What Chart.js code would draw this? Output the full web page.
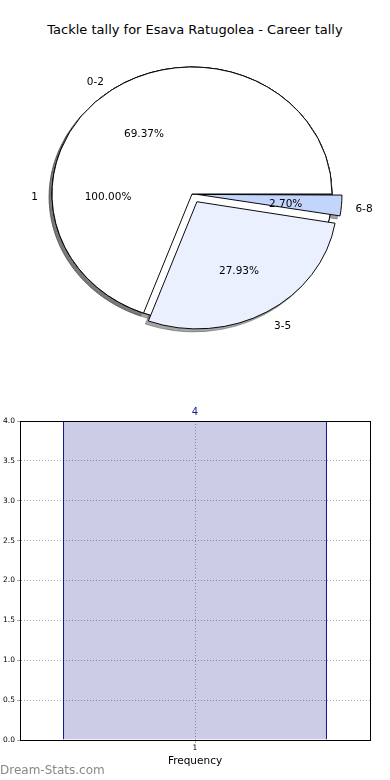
<!DOCTYPE html>
<html>
<head>
<meta charset="utf-8">
<script src="https://cdn.jsdelivr.net/npm/chart.js@4.4.1/dist/chart.umd.min.js"></script>
<style>
  body { margin: 0; width: 390px; height: 780px; background: #fff; font-family: "DejaVu Sans", sans-serif; overflow: hidden; position: relative; }
  canvas { position: absolute; left: 0; }
  #title { position: absolute; top: 22px; left: 0; width: 390px; text-align: center; font-size: 13px; line-height: 16px; color: #000; }
  #mark { position: absolute; left: 0; top: 763px; font-size: 12px; line-height: 14px; color: #888; }
</style>
</head>
<body>
<div id="title">Tackle tally for Esava Ratugolea - Career tally</div>
<canvas id="base" width="390" height="390" style="top:0"></canvas>
<canvas id="pie" width="390" height="390" style="top:0"></canvas>
<canvas id="bar" width="390" height="380" style="top:400px"></canvas>
<div id="mark">Dream-Stats.com</div>
<script>
// pie data
const pieLabels = ["0-2", "3-5", "6-8"];
const pieValues = [69.37, 27.93, 2.70];
const pieColors = ["#ffffff", "#eaf0fd", "#c3d5fb"];
const explode = [0, 10, 10]; // px

// the single "1" pie drawn underneath
const baseLabels = ["1"];
const baseValues = [100];

// bar data
const barLabels = ["1"];
const barValues = [4];
const yTicks = [0, 0.5, 1, 1.5, 2, 2.5, 3, 3.5, 4];

const K = 127 / 140; // pie is squashed vertically
const R = 140;

// chart.js goes clockwise, so reverse the order to match a ccw pie from 3 o'clock
const order = [2, 1, 0];

function center(chart) {
  const a = chart.chartArea;
  return [(a.left + a.right) / 2, (a.top + a.bottom) / 2];
}

function squash(ctx, cx, cy) {
  ctx.translate(cx, cy);
  ctx.scale(1, K);
  ctx.translate(-cx, -cy);
}

function drawShadows(ctx, cx, cy, arcs) {
  // draw shapes off canvas, keep only their shadow
  ctx.save();
  ctx.translate(3000, 0);
  ctx.shadowColor = "rgba(77,77,77,0.5)";
  ctx.shadowOffsetX = -3000 - 3;
  ctx.shadowOffsetY = 3;
  squash(ctx, cx, cy);
  arcs.forEach(el => el.draw(ctx));
  ctx.restore();
}

let baseChart = null;

const ellipse = {
  id: "ellipse",
  beforeDatasetsDraw(chart) {
    const ctx = chart.ctx;
    const [cx, cy] = center(chart);
    drawShadows(ctx, cx, cy, chart.getDatasetMeta(0).data);
    ctx.save();
    squash(ctx, cx, cy);
    // the white "1" pie sits above all shadows, below the slices
    if (baseChart && chart !== baseChart) {
      baseChart.getDatasetMeta(0).data.forEach(el => el.draw(ctx));
    }
  },
  afterDatasetsDraw(chart) {
    chart.ctx.restore();
  }
};

function pieText(chart, ctx, names, values, shifts) {
  const [cx, cy] = center(chart);
  const total = values.reduce((s, v) => s + v, 0);
  ctx.save();
  ctx.fillStyle = "#000";
  ctx.font = "10.5px 'DejaVu Sans'";
  ctx.textBaseline = "middle";
  chart.getDatasetMeta(0).data.forEach((el, j) => {
    const mid = (el.startAngle + el.endAngle) / 2;
    const ux = Math.cos(mid), uy = Math.sin(mid);
    const r = el.outerRadius;
    const s = shifts[j];
    ctx.textAlign = ux > 0 ? "left" : "right";
    ctx.fillText(names[j], cx + ux * (s + 1.1 * r), cy + 3 + K * uy * (s + 1.1 * r));
    ctx.textAlign = "center";
    const pct = (values[j] / total * 100).toFixed(2) + "%";
    ctx.fillText(pct, cx + ux * (s + 0.6 * r), cy + 3 + K * uy * (s + 0.6 * r));
  });
  ctx.restore();
}

const pieOptions = {
  responsive: false,
  animation: false,
  events: [],
  rotation: 90,
  layout: { padding: { left: 0, right: 6, top: 0, bottom: 2 } },
  plugins: { legend: { display: false }, tooltip: { enabled: false } }
};

baseChart = new Chart(document.getElementById("base"), {
  type: "pie",
  data: {
    labels: baseLabels,
    datasets: [{
      data: baseValues,
      backgroundColor: "#ffffff",
      borderColor: "#000",
      borderWidth: 1,
      radius: R,
      clip: false
    }]
  },
  options: pieOptions,
  plugins: [ellipse]
});

const pieTotal = pieValues.reduce((s, v) => s + v, 0);

const labelsPlugin = {
  id: "pieLabels",
  afterDraw(chart) {
    const ctx = chart.ctx;
    pieText(baseChart, ctx, baseLabels, baseValues, [0]);
    pieText(chart, ctx, order.map(i => pieLabels[i]), order.map(i => pieValues[i]), order.map(i => explode[i]));
  }
};

new Chart(document.getElementById("pie"), {
  type: "pie",
  data: {
    labels: order.map(i => pieLabels[i]),
    datasets: [{
      data: order.map(i => pieValues[i]),
      backgroundColor: order.map(i => pieColors[i]),
      borderColor: "#000",
      borderWidth: 1,
      radius: R,
      clip: false,
      // arc offset is scaled internally, undo that so every slice moves explode[i] px
      offset: c => {
        const i = order[c.dataIndex];
        const circ = pieValues[i] / pieTotal * 2 * Math.PI;
        const fix = 1 - Math.sin(Math.min(Math.PI, circ));
        return explode[i] * 4 / (1 + fix);
      }
    }]
  },
  options: pieOptions,
  plugins: [ellipse, labelsPlugin]
});

// bar chart
const box = {
  id: "box",
  afterDraw(chart) {
    const { ctx, chartArea: a } = chart;
    ctx.save();
    ctx.strokeStyle = "#000";
    ctx.lineWidth = 1;
    ctx.strokeRect(a.left + 0.5, a.top + 0.5, a.right - a.left, a.bottom - a.top);
    ctx.restore();
  }
};

const valueLabel = {
  id: "valueLabel",
  afterDraw(chart) {
    const ctx = chart.ctx;
    ctx.save();
    ctx.fillStyle = "#1a1a9c";
    ctx.font = "10px 'DejaVu Sans'";
    ctx.textAlign = "center";
    ctx.textBaseline = "middle";
    chart.getDatasetMeta(0).data.forEach((el, i) => {
      ctx.fillText(String(barValues[i]), el.x, el.y - 9);
    });
    ctx.restore();
  }
};

const gridStyle = { color: "#a8a8a8", tickLength: 3, lineWidth: 1 };

new Chart(document.getElementById("bar"), {
  type: "bar",
  data: {
    labels: barLabels,
    datasets: [{
      data: barValues,
      backgroundColor: "rgba(0,0,128,0.2)",
      borderColor: "#00008b",
      borderWidth: 1,
      borderSkipped: "bottom",
      barPercentage: 0.754,
      categoryPercentage: 1
    }]
  },
  options: {
    responsive: false,
    animation: false,
    events: [],
    layout: { padding: { left: 0, right: 20, top: 21, bottom: 0 } },
    plugins: { legend: { display: false }, tooltip: { enabled: false } },
    scales: {
      x: {
        grid: { ...gridStyle, offset: false },
        border: { color: "#000", dash: [1, 2] },
        ticks: { font: { size: 7.5, family: "DejaVu Sans" }, color: "#000", padding: 1 },
        title: { display: true, text: "Frequency", font: { size: 10.5, family: "DejaVu Sans" }, color: "#000", padding: { top: 0, bottom: 12 } },
        afterFit: s => { s.height = 40; }
      },
      y: {
        min: 0,
        max: 4,
        afterBuildTicks: s => { s.ticks = yTicks.map(v => ({ value: v })); },
        grid: gridStyle,
        border: { color: "#000", dash: [1, 2] },
        ticks: { font: { size: 7.5, family: "DejaVu Sans" }, color: "#000", padding: 2, callback: v => v.toFixed(1) },
        afterFit: s => { s.width = 20; }
      }
    }
  },
  plugins: [box, valueLabel]
});
</script>
</body>
</html>
